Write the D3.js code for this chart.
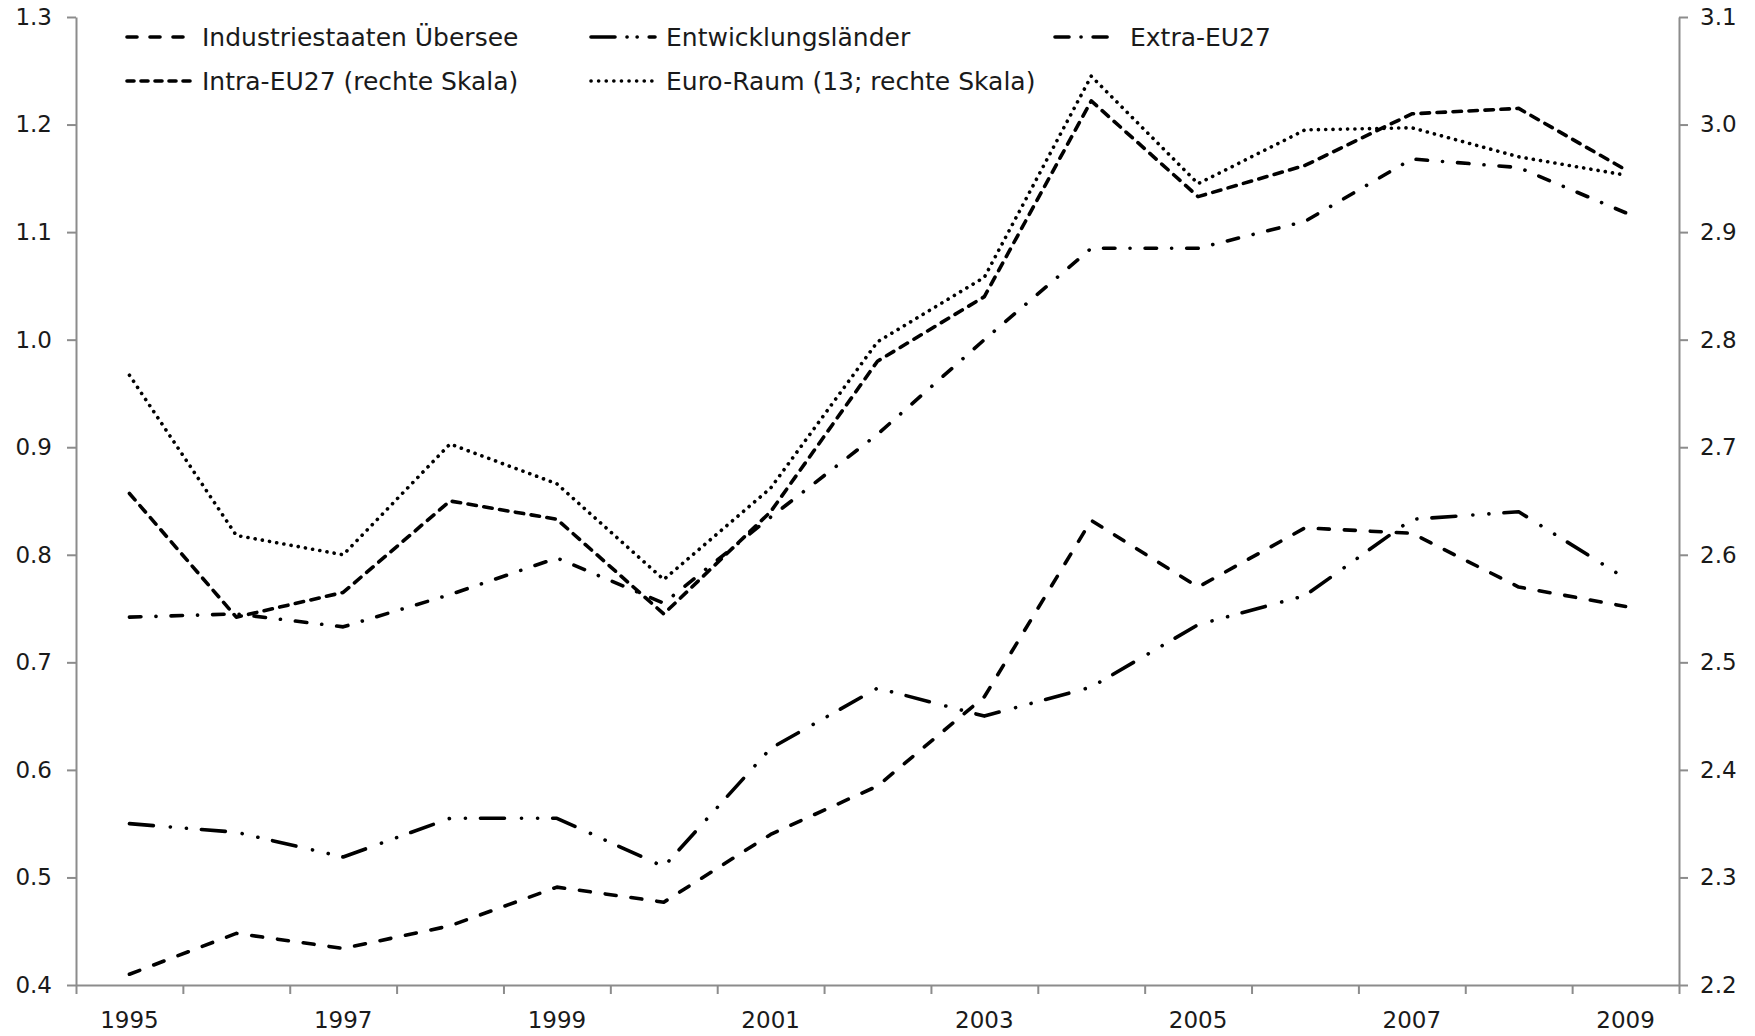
<!DOCTYPE html>
<html>
<head>
<meta charset="utf-8">
<script src="https://cdn.jsdelivr.net/npm/d3@7"></script>
<style>
  body { margin: 0; background: #fff; }
  svg { display: block; font-family: "DejaVu Sans", sans-serif; }
  .axis path, .axis line { stroke: #8c8c8c; stroke-width: 2; }
  .axis text { fill: #1a1a1a; font-size: 23px; font-family: "DejaVu Sans", sans-serif; }
</style>
</head>
<body>
<div id="chart"></div>
<script>
// data
var years = ["1995", "1996", "1997", "1998", "1999", "2000", "2001", "2002",
             "2003", "2004", "2005", "2006", "2007", "2008", "2009"];
var yearLabels = ["1995", "1997", "1999", "2001", "2003", "2005", "2007", "2009"];
var leftTicks = [0.4, 0.5, 0.6, 0.7, 0.8, 0.9, 1.0, 1.1, 1.2, 1.3];
var rightTicks = [2.2, 2.3, 2.4, 2.5, 2.6, 2.7, 2.8, 2.9, 3.0, 3.1];

// left scale
var industriestaaten = [0.410, 0.448, 0.434, 0.455, 0.491, 0.477, 0.540, 0.585,
                        0.668, 0.832, 0.770, 0.825, 0.820, 0.770, 0.752];
var entwicklung = [0.550, 0.542, 0.519, 0.555, 0.555, 0.510, 0.620, 0.676,
                   0.650, 0.677, 0.735, 0.762, 0.833, 0.840, 0.778];
var extraEU = [0.742, 0.745, 0.733, 0.763, 0.797, 0.755, 0.835, 0.912,
               1.000, 1.085, 1.085, 1.110, 1.168, 1.160, 1.118];
// right scale
var intraEU = [2.657, 2.542, 2.565, 2.650, 2.633, 2.545, 2.640, 2.780,
               2.840, 3.022, 2.933, 2.962, 3.010, 3.015, 2.958];
var euroRaum = [2.767, 2.618, 2.600, 2.703, 2.666, 2.577, 2.662, 2.798,
                2.858, 3.045, 2.945, 2.995, 2.997, 2.970, 2.953];

var app = app || {};

app.LineChart = (function () {
    'use strict';

    var init = function (baseElement) {
        var config = configure(d3.select(baseElement));
        structure(config);
        axes(config);
        lines(config);
        legend(config);
        return config;
    };

    var configure = function (base) {
        var m = { width: 1755, height: 1036, left: 76, right: 1679, top: 17, bottom: 985 };

        // dash patterns are drawn with round caps, so dashes grow by the stroke width
        var series = [
            { name: "Industriestaaten Übersee", values: industriestaaten, side: "left", dash: "11,15", legendDash: "10,13" },
            { name: "Entwicklungsländer", values: entwicklung, side: "left", dash: "24,17,0.1,16,0.1,15", legendDash: "24,12,0.1,10,0.1,12" },
            { name: "Extra-EU27", values: extraEU, side: "left", dash: "11.5,15,0.1,15", legendDash: "14,12,0.1,12" },
            { name: "Intra-EU27 (rechte Skala)", values: intraEU, side: "right", dash: "8.5,7.5", legendDash: "7,7" },
            { name: "Euro-Raum (13; rechte Skala)", values: euroRaum, side: "right", dash: "0.1,7.2", legendDash: "0.1,7.5" }
        ];

        return {
            base: base,
            m: m,
            series: series,
            x: d3.scaleBand().domain(years).range([m.left, m.right]),
            xEdge: d3.scaleLinear().domain([0, years.length]).range([m.left, m.right]),
            yLeft: d3.scaleLinear().domain([0.4, 1.3]).range([m.bottom, m.top]),
            yRight: d3.scaleLinear().domain([2.2, 3.1]).range([m.bottom, m.top])
        };
    };

    var structure = function (config) {
        config.svg = config.base.append("svg")
            .attr("width", config.m.width)
            .attr("height", config.m.height);
    };

    var axes = function (config) {
        var svg = config.svg, m = config.m;

        // ticks on category edges
        svg.append("g").attr("class", "axis")
            .attr("transform", "translate(0," + m.bottom + ")")
            .call(d3.axisBottom(config.xEdge).tickValues(d3.range(0, years.length + 1))
                .tickSize(9).tickSizeOuter(0).tickFormat(""));

        // year labels in the middle of the categories
        var lab = svg.append("g").attr("class", "axis")
            .attr("transform", "translate(0," + m.bottom + ")")
            .call(d3.axisBottom(config.x).tickValues(yearLabels).tickSize(0).tickPadding(27));
        lab.select(".domain").remove();

        svg.append("g").attr("class", "axis")
            .attr("transform", "translate(" + m.left + ",0)")
            .call(d3.axisLeft(config.yLeft).tickValues(leftTicks).tickFormat(d3.format(".1f"))
                .tickSize(9).tickSizeOuter(0).tickPadding(15));

        svg.append("g").attr("class", "axis")
            .attr("transform", "translate(" + m.right + ",0)")
            .call(d3.axisRight(config.yRight).tickValues(rightTicks).tickFormat(d3.format(".1f"))
                .tickSize(9).tickSizeOuter(0).tickPadding(12));
    };

    var lines = function (config) {
        var half = config.x.bandwidth() / 2;
        config.series.forEach(function (s) {
            var y = s.side === "left" ? config.yLeft : config.yRight;
            var line = d3.line()
                .x(function (d, i) { return config.x(years[i]) + half; })
                .y(function (d) { return y(d); });
            config.svg.append("path")
                .datum(s.values)
                .attr("fill", "none")
                .attr("stroke", "#000")
                .attr("stroke-width", 3.6)
                .attr("stroke-linecap", "round")
                .attr("stroke-linejoin", "round")
                .attr("stroke-dasharray", s.dash)
                .attr("d", line);
        });
    };

    var legend = function (config) {
        var cols = [125, 589, 1053], rows = [37, 81];
        var items = config.svg.append("g").selectAll("g")
            .data(config.series)
            .enter().append("g")
            .attr("transform", function (d, i) {
                return "translate(" + cols[i % 3] + "," + rows[Math.floor(i / 3)] + ")";
            });

        items.append("line")
            .attr("x1", 2).attr("x2", 66)
            .attr("stroke", "#000")
            .attr("stroke-width", 3.6)
            .attr("stroke-linecap", "round")
            .attr("stroke-dasharray", function (d) { return d.legendDash; });

        items.append("text")
            .attr("x", 77)
            .attr("dy", "0.36em")
            .attr("font-size", 25)
            .attr("fill", "#1a1a1a")
            .text(function (d) { return d.name; });
    };

    return { init: init };
}());

app.LineChart.init("#chart");
</script>
</body>
</html>
